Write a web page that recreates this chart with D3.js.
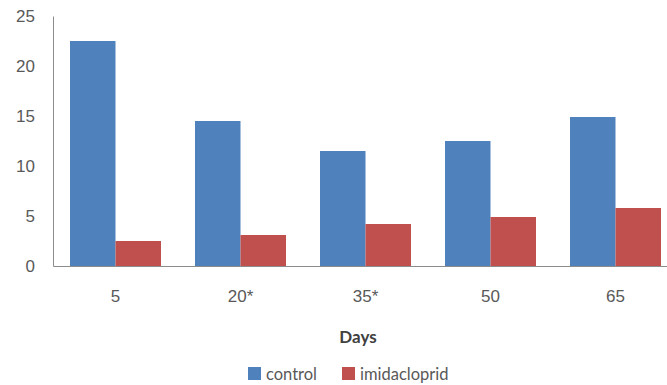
<!DOCTYPE html>
<html>
<head>
<meta charset="utf-8">
<script src="https://cdn.jsdelivr.net/npm/d3@7"></script>
<style>
  body { margin: 0; background: #fff; }
  svg { display: block; font-family: Lato, "Open Sans", sans-serif; }
</style>
</head>
<body>
<div id="chart"></div>
<script>
// data
var days = ["5", "20*", "35*", "50", "65"];
var control = [22.5, 14.5, 11.5, 12.5, 14.9];
var imidacloprid = [2.5, 3.1, 4.2, 4.9, 5.8];
var seriesNames = ["control", "imidacloprid"];
var yTicks = [0, 5, 10, 15, 20, 25];

var width = 667, height = 385;
var margin = {top: 16, left: 53, bottom: 119};
var colors = {control: "#4F81BD", imidacloprid: "#C0504D"};

var svg = d3.select("#chart").append("svg")
    .attr("width", width)
    .attr("height", height);

// plot runs a little past the right edge, as in the cropped original
var x = d3.scaleBand()
    .domain(days)
    .range([margin.left, margin.left + 125 * days.length])
    .paddingInner(0.272)
    .paddingOuter(0.136);

var x1 = d3.scaleBand()
    .domain(seriesNames)
    .range([0, x.bandwidth()]);

var y = d3.scaleLinear()
    .domain([0, 25])
    .range([height - margin.bottom, margin.top]);

var rows = days.map(function(d, i) {
  return {day: d, values: [
    {key: "control", value: control[i]},
    {key: "imidacloprid", value: imidacloprid[i]}
  ]};
});

// bars
var groups = svg.selectAll(".grp").data(rows).enter()
  .append("g")
    .attr("class", "grp")
    .attr("transform", function(d) { return "translate(" + x(d.day) + ",0)"; });

groups.selectAll("rect").data(function(d) { return d.values; }).enter()
  .append("rect")
    .attr("x", function(d) { return x1(d.key); })
    .attr("width", x1.bandwidth())
    .attr("y", function(d) { return y(d.value); })
    .attr("height", function(d) { return y(0) - y(d.value); })
    .style("fill", function(d) { return colors[d.key]; });

// y axis
var yAxis = svg.append("g")
    .attr("transform", "translate(" + margin.left + ",0)")
    .call(d3.axisLeft(y).tickValues(yTicks).tickSize(0).tickPadding(18));
yAxis.select(".domain").attr("stroke", "#8c8c8c");
yAxis.selectAll("text")
    .style("font-size", "17px")
    .style("fill", "#595959");

// x axis
var xAxis = svg.append("g")
    .attr("transform", "translate(0," + y(0) + ")")
    .call(d3.axisBottom(x).tickSize(0).tickPadding(24));
xAxis.select(".domain").attr("stroke", "#8c8c8c");
xAxis.selectAll("text")
    .style("font-size", "17px")
    .style("fill", "#595959");

// axis title
svg.append("text")
    .attr("x", 358)
    .attr("y", 343)
    .attr("text-anchor", "middle")
    .style("font-size", "17px")
    .style("font-weight", "bold")
    .style("fill", "#404040")
    .text("Days");

// legend
var legendX = [248, 342];
var legend = svg.selectAll(".leg").data(seriesNames).enter()
  .append("g")
    .attr("class", "leg")
    .attr("transform", function(d, i) { return "translate(" + legendX[i] + ",367)"; });

legend.append("rect")
    .attr("width", 13)
    .attr("height", 13)
    .style("fill", function(d) { return colors[d]; });

legend.append("text")
    .attr("x", 18)
    .attr("y", 12.5)
    .style("font-size", "16.5px")
    .style("fill", "#595959")
    .text(function(d) { return d; });
</script>
</body>
</html>
